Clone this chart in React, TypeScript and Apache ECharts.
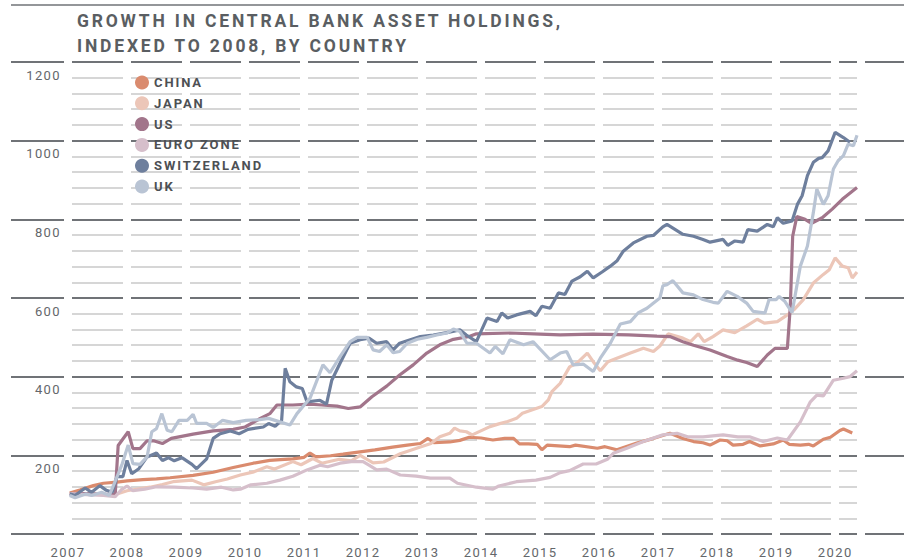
import React, { useEffect, useRef } from "react";
import * as echarts from "echarts";

// ---- Text ----
const TITLE_LINES = ["GROWTH IN CENTRAL BANK ASSET HOLDINGS,", "INDEXED TO 2008, BY COUNTRY"];
const SERIES_NAMES = ["CHINA", "JAPAN", "US", "EURO ZONE", "SWITZERLAND", "UK"];
const SERIES_COLORS = ["#da8b6e", "#ecc6b8", "#a2758b", "#d6bfcb", "#6e7f9d", "#b9c4d4"];

// ---- Axes ----
const X_MIN = 2007;
const X_MAX = 2020.37;
const Y_MIN = 0;
const Y_MAX = 1200;
const Y_MAJOR_STEP = 200;
const Y_MINOR_STEP = 40;

// ---- Data: [year, index value] ----
const CHINA: [number, number][] = [
  [2007.03, 104], [2007.2, 112], [2007.43, 123], [2007.6, 129], [2007.83, 132], [2008.0, 135],
  [2008.27, 138], [2008.5, 140], [2008.73, 143], [2009.12, 149], [2009.46, 157], [2009.8, 169],
  [2010.14, 180], [2010.42, 187], [2010.6, 189], [2010.81, 191], [2011.0, 195], [2011.1, 206],
  [2011.2, 196], [2011.45, 199], [2011.66, 203], [2011.95, 209], [2012.2, 214], [2012.5, 221],
  [2012.75, 226], [2012.97, 230], [2013.1, 243], [2013.2, 232], [2013.47, 234], [2013.64, 238],
  [2013.8, 246], [2014.0, 244], [2014.2, 239], [2014.4, 243], [2014.55, 243], [2014.65, 229],
  [2014.8, 229], [2014.95, 228], [2015.03, 214], [2015.12, 226], [2015.5, 222], [2015.6, 226],
  [2015.97, 218], [2016.1, 222], [2016.3, 214], [2016.64, 231], [2016.85, 240], [2017.05, 249],
  [2017.2, 256], [2017.42, 243], [2017.6, 235], [2017.76, 232], [2017.88, 226], [2018.05, 239],
  [2018.17, 237], [2018.27, 226], [2018.44, 228], [2018.55, 235], [2018.73, 224], [2018.95, 229],
  [2019.12, 239], [2019.22, 228], [2019.41, 226], [2019.55, 228], [2019.63, 224], [2019.8, 241],
  [2019.92, 246], [2020.08, 263], [2020.14, 267], [2020.29, 257],
];

const JAPAN: [number, number][] = [
  [2007.03, 103], [2007.2, 100], [2007.4, 102], [2007.6, 100], [2007.75, 98], [2008.0, 110],
  [2008.2, 115], [2008.39, 119], [2008.6, 126], [2008.78, 133], [2009.1, 137], [2009.3, 125],
  [2009.5, 133], [2009.7, 140], [2009.92, 150], [2010.15, 158], [2010.37, 171], [2010.5, 165],
  [2010.81, 184], [2010.95, 176], [2011.15, 192], [2011.3, 180], [2011.6, 190], [2011.8, 186],
  [2011.95, 200], [2012.17, 181], [2012.35, 183], [2012.63, 204], [2012.97, 221], [2013.15, 230],
  [2013.3, 247], [2013.47, 256], [2013.55, 269], [2013.64, 262], [2013.75, 260], [2013.85, 252],
  [2014.15, 273], [2014.3, 280], [2014.45, 286], [2014.6, 294], [2014.7, 307], [2014.87, 316],
  [2015.03, 324], [2015.14, 341], [2015.2, 362], [2015.34, 383], [2015.5, 425], [2015.62, 434],
  [2015.8, 460], [2015.9, 438], [2016.02, 415], [2016.15, 438], [2016.3, 447], [2016.53, 460],
  [2016.75, 472], [2016.92, 464], [2017.03, 478], [2017.17, 509], [2017.42, 498], [2017.55, 489],
  [2017.68, 509], [2017.78, 489], [2017.93, 502], [2018.1, 519], [2018.3, 512], [2018.5, 529],
  [2018.68, 546], [2018.8, 536], [2019.02, 540], [2019.19, 557], [2019.3, 570], [2019.46, 596],
  [2019.63, 638], [2019.8, 660], [2019.9, 672], [2020.0, 702], [2020.12, 681], [2020.22, 677],
  [2020.29, 651], [2020.37, 666],
];

const US: [number, number][] = [
  [2007.03, 102], [2007.3, 103], [2007.6, 101], [2007.8, 101], [2007.85, 225], [2008.02, 260],
  [2008.1, 217], [2008.22, 217], [2008.34, 237], [2008.45, 237], [2008.6, 230], [2008.75, 243],
  [2009.12, 254], [2009.46, 262], [2009.8, 266], [2010.0, 272], [2010.25, 293], [2010.42, 306],
  [2010.54, 328], [2010.81, 328], [2011.1, 330], [2011.3, 328], [2011.56, 325], [2011.75, 319],
  [2011.95, 323], [2012.15, 349], [2012.4, 376], [2012.62, 404], [2012.85, 430], [2013.08, 460],
  [2013.3, 481], [2013.53, 495], [2013.8, 502], [2013.92, 509], [2014.49, 511], [2015.0, 508],
  [2015.34, 506], [2015.9, 508], [2016.5, 506], [2016.98, 503], [2017.2, 502], [2017.42, 489],
  [2017.6, 480], [2017.88, 468], [2018.17, 451], [2018.35, 442], [2018.5, 436], [2018.68, 426],
  [2018.85, 455], [2018.98, 472], [2019.19, 472], [2019.24, 579], [2019.28, 757], [2019.35, 807],
  [2019.49, 800], [2019.6, 790], [2019.78, 804], [2019.95, 826], [2020.12, 851], [2020.37, 881],
];

const EURO_ZONE: [number, number][] = [
  [2007.03, 103], [2007.3, 100], [2007.6, 98], [2007.8, 95], [2007.9, 112], [2008.0, 122],
  [2008.1, 110], [2008.3, 114], [2008.5, 120], [2008.8, 119], [2009.12, 117], [2009.35, 114],
  [2009.6, 119], [2009.8, 112], [2009.92, 114], [2010.1, 125], [2010.37, 129], [2010.59, 137],
  [2010.81, 147], [2011.05, 163], [2011.27, 175], [2011.4, 171], [2011.61, 180], [2011.8, 184],
  [2012.0, 184], [2012.1, 175], [2012.23, 163], [2012.4, 165], [2012.63, 150], [2012.9, 147],
  [2013.14, 142], [2013.47, 142], [2013.6, 129], [2013.92, 119], [2014.2, 114], [2014.3, 122],
  [2014.6, 133], [2014.93, 137], [2015.17, 144], [2015.34, 156], [2015.5, 161], [2015.73, 178],
  [2015.95, 178], [2016.14, 190], [2016.24, 205], [2016.47, 218], [2016.75, 235], [2017.08, 252],
  [2017.32, 256], [2017.5, 247], [2017.76, 247], [2018.1, 252], [2018.35, 247], [2018.55, 247],
  [2018.78, 235], [2019.02, 244], [2019.19, 239], [2019.41, 285], [2019.58, 336], [2019.69, 353],
  [2019.8, 351], [2019.97, 391], [2020.14, 396], [2020.25, 400], [2020.37, 415],
];

const SWITZERLAND: [number, number][] = [
  [2007.03, 102], [2007.12, 98], [2007.29, 117], [2007.4, 106], [2007.54, 123], [2007.65, 111],
  [2007.75, 106], [2007.83, 146], [2007.93, 146], [2008.0, 187], [2008.08, 153], [2008.2, 166],
  [2008.34, 196], [2008.5, 206], [2008.6, 187], [2008.7, 194], [2008.8, 186], [2008.93, 194],
  [2009.1, 177], [2009.18, 166], [2009.35, 191], [2009.46, 243], [2009.58, 255], [2009.75, 262],
  [2009.9, 255], [2010.05, 266], [2010.31, 272], [2010.4, 281], [2010.51, 274], [2010.62, 289],
  [2010.68, 421], [2010.76, 387], [2010.87, 374], [2010.97, 370], [2011.05, 336], [2011.27, 340],
  [2011.38, 330], [2011.47, 391], [2011.61, 434], [2011.78, 485], [2011.95, 494], [2012.1, 498],
  [2012.23, 485], [2012.4, 489], [2012.51, 468], [2012.62, 485], [2012.8, 494], [2012.97, 502],
  [2013.19, 506], [2013.42, 512], [2013.64, 519], [2013.75, 506], [2013.92, 489], [2014.1, 549],
  [2014.27, 540], [2014.35, 562], [2014.45, 549], [2014.6, 557], [2014.83, 566], [2014.93, 555],
  [2015.03, 579], [2015.17, 574], [2015.31, 613], [2015.42, 609], [2015.54, 643], [2015.68, 654],
  [2015.8, 668], [2015.9, 651], [2016.05, 666], [2016.19, 681], [2016.3, 694], [2016.41, 719],
  [2016.58, 740], [2016.81, 757], [2016.92, 759], [2017.08, 781], [2017.15, 787], [2017.42, 762],
  [2017.6, 757], [2017.76, 749], [2017.88, 742], [2018.1, 749], [2018.18, 734], [2018.3, 745],
  [2018.44, 742], [2018.52, 774], [2018.68, 770], [2018.85, 787], [2018.95, 781], [2019.02, 804],
  [2019.12, 790], [2019.27, 796], [2019.36, 838], [2019.44, 860], [2019.53, 911], [2019.63, 945],
  [2019.72, 955], [2019.78, 957], [2019.88, 974], [2020.0, 1021], [2020.14, 1008], [2020.25, 996],
];

const UK: [number, number][] = [
  [2007.03, 98], [2007.12, 92], [2007.3, 102], [2007.4, 98], [2007.57, 106], [2007.7, 98],
  [2007.83, 145], [2007.92, 179], [2008.02, 226], [2008.1, 179], [2008.22, 177], [2008.34, 196],
  [2008.42, 260], [2008.5, 268], [2008.59, 306], [2008.68, 264], [2008.76, 260], [2008.88, 289],
  [2009.02, 289], [2009.12, 304], [2009.18, 281], [2009.35, 281], [2009.46, 271], [2009.62, 289],
  [2009.8, 283], [2010.02, 289], [2010.25, 291], [2010.4, 294], [2010.59, 285], [2010.76, 277],
  [2010.88, 306], [2011.1, 345], [2011.32, 430], [2011.44, 410], [2011.61, 451], [2011.78, 489],
  [2011.9, 500], [2012.07, 500], [2012.17, 468], [2012.28, 464], [2012.4, 481], [2012.51, 461],
  [2012.62, 464], [2012.75, 485], [2012.92, 495], [2013.08, 500], [2013.25, 506], [2013.42, 511],
  [2013.53, 521], [2013.64, 515], [2013.76, 485], [2013.92, 485], [2014.15, 460], [2014.24, 477],
  [2014.37, 458], [2014.49, 494], [2014.72, 481], [2014.88, 489], [2015.17, 443], [2015.34, 460],
  [2015.45, 464], [2015.56, 430], [2015.73, 432], [2015.9, 413], [2016.02, 447], [2016.19, 485],
  [2016.36, 534], [2016.53, 540], [2016.66, 562], [2016.81, 574], [2017.03, 600], [2017.08, 631],
  [2017.15, 634], [2017.25, 644], [2017.42, 613], [2017.6, 608], [2017.76, 596], [2017.93, 589],
  [2018.02, 587], [2018.17, 617], [2018.34, 604], [2018.5, 587], [2018.61, 566], [2018.81, 562],
  [2018.88, 596], [2019.0, 596], [2019.05, 604], [2019.15, 591], [2019.27, 563], [2019.41, 681],
  [2019.53, 732], [2019.63, 817], [2019.69, 877], [2019.8, 838], [2019.88, 860], [2019.97, 928],
  [2020.05, 949], [2020.14, 962], [2020.22, 991], [2020.31, 987], [2020.37, 1014],
];

const SERIES_DATA = [CHINA, JAPAN, US, EURO_ZONE, SWITZERLAND, UK];

// ---- Style ----
const FONT = "Roboto, 'Noto Sans', sans-serif";
const TITLE_COLOR = "#5a5e62";
const LEGEND_COLOR = "#4d5054";
const AXIS_COLOR = "#64676b";
const MINOR_GRID = "#c9c9c9";
const MAJOR_GRID = "#707377";

const CSS = `
#chart-root svg text[fill="${TITLE_COLOR}"] { letter-spacing: 2.8px; }
#chart-root svg text[fill="${LEGEND_COLOR}"] { letter-spacing: 1.9px; }
#chart-root svg text[fill="${AXIS_COLOR}"] { letter-spacing: 1.4px; }
`;

const hiddenAxisParts = {
  axisLine: { show: false },
  axisTick: { show: false },
  axisLabel: { show: false },
};

export default function App() {
  const ref = useRef<HTMLDivElement>(null);

  useEffect(() => {
    if (!ref.current) return;
    const chart = echarts.init(ref.current, null, { renderer: "svg" });

    const dashed = { type: [51, 8], dashOffset: 55 };

    const option: any = {
      animation: false,
      backgroundColor: "#ffffff",
      title: {
        text: TITLE_LINES.join("\n"),
        left: 77,
        top: 9,
        padding: 0,
        textStyle: {
          fontFamily: FONT,
          fontWeight: "bold",
          fontSize: 17.5,
          lineHeight: 24.6,
          color: TITLE_COLOR,
        },
      },
      legend: {
        orient: "vertical",
        left: 135,
        top: 75.5,
        padding: 0,
        icon: "circle",
        itemWidth: 14,
        itemHeight: 14,
        itemGap: 6.8,
        selectedMode: false,
        data: SERIES_NAMES,
        textStyle: {
          fontFamily: FONT,
          fontWeight: "bold",
          fontSize: 13,
          color: LEGEND_COLOR,
        },
      },
      graphic: [
        {
          type: "line",
          shape: { x1: 11, y1: 5, x2: 904, y2: 5 },
          style: { stroke: MAJOR_GRID, lineWidth: 1.6 },
          silent: true,
        },
      ],
      grid: [
        { left: 68, right: 47, top: 62, bottom: 24, containLabel: false, outerBoundsMode: "none" },
        { left: 11, right: 840, top: 62, bottom: 24, containLabel: false, outerBoundsMode: "none" },
        { left: 865, right: 0, top: 62, bottom: 24, containLabel: false, outerBoundsMode: "none" },
      ],
      xAxis: [
        {
          gridIndex: 0,
          type: "value",
          min: X_MIN,
          max: X_MAX,
          interval: 1,
          axisLine: { show: false },
          axisTick: { show: false },
          splitLine: { show: false },
          axisLabel: {
            showMaxLabel: false,
            formatter: (v: number) => (Number.isInteger(v) ? String(v) : ""),
            margin: 11,
            lineHeight: 14,
            fontFamily: FONT,
            fontSize: 13,
            color: AXIS_COLOR,
          },
        },
        { gridIndex: 1, type: "value", min: 0, max: 1, show: false },
        { gridIndex: 2, type: "value", min: 0, max: 1, show: false },
      ],
      yAxis: [
        {
          gridIndex: 0,
          type: "value",
          position: "left",
          min: Y_MIN,
          max: Y_MAX,
          interval: Y_MINOR_STEP,
          ...hiddenAxisParts,
          splitLine: { show: true, lineStyle: { color: MINOR_GRID, width: 1.5, ...dashed } },
        },
        {
          gridIndex: 0,
          type: "value",
          position: "left",
          min: Y_MIN,
          max: Y_MAX,
          interval: Y_MAJOR_STEP,
          axisLine: { show: false },
          axisTick: { show: false },
          axisLabel: {
            formatter: (v: number) => (v === 0 ? "" : String(v)),
            verticalAlign: "top",
            lineHeight: 26,
            margin: 7,
            fontFamily: FONT,
            fontSize: 13,
            color: AXIS_COLOR,
          },
          splitLine: { show: true, lineStyle: { color: MAJOR_GRID, width: 1.8, ...dashed } },
        },
        {
          gridIndex: 1,
          type: "value",
          min: Y_MIN,
          max: Y_MAX,
          interval: Y_MAJOR_STEP,
          ...hiddenAxisParts,
          splitLine: { show: true, lineStyle: { color: MAJOR_GRID, width: 1.8 } },
        },
        {
          gridIndex: 2,
          type: "value",
          min: Y_MIN,
          max: Y_MAX,
          interval: Y_MAJOR_STEP,
          ...hiddenAxisParts,
          splitLine: { show: true, lineStyle: { color: MAJOR_GRID, width: 1.8 } },
        },
      ],
      series: SERIES_NAMES.map((name, i) => ({
        name,
        type: "line",
        xAxisIndex: 0,
        yAxisIndex: 1,
        data: SERIES_DATA[i],
        showSymbol: false,
        symbol: "none",
        color: SERIES_COLORS[i],
        itemStyle: { color: SERIES_COLORS[i] },
        lineStyle: { color: SERIES_COLORS[i], width: 3.2 },
        z: 3 + i,
        emphasis: { disabled: true },
      })),
    };

    chart.setOption(option);
    return () => chart.dispose();
  }, []);

  return (
    <>
      <style>{CSS}</style>
      <div
        id="chart-root"
        ref={ref}
        style={{ position: "absolute", left: 0, top: 0, width: 904, height: 558 }}
      />
    </>
  );
}
